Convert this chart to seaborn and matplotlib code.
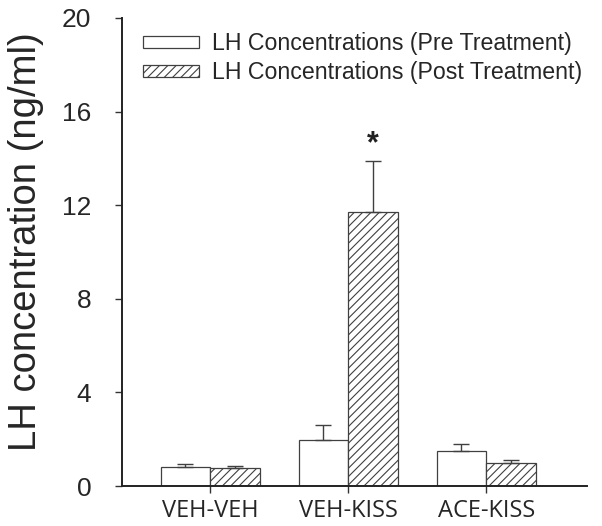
import numpy as np
import pandas as pd
import matplotlib
matplotlib.use("Agg")
import matplotlib.pyplot as plt
import seaborn as sns

# values
groups = ["VEH-VEH", "VEH-KISS", "ACE-KISS"]
series = ["LH Concentrations (Pre Treatment)", "LH Concentrations (Post Treatment)"]
pre_mean = [0.80, 1.97, 1.50]
pre_sem = [0.12, 0.65, 0.30]
post_mean = [0.75, 11.7, 0.99]
post_sem = [0.12, 2.2, 0.14]
yticks = [0, 4, 8, 12, 16, 20]

sns.set_theme(style="ticks")
plt.rcParams["font.family"] = ["Liberation Sans", "DejaVu Sans"]
plt.rcParams["hatch.color"] = "#606060"
plt.rcParams["hatch.linewidth"] = 0.8

df = pd.DataFrame({
    "group": groups * 2,
    "series": [series[0]] * 3 + [series[1]] * 3,
    "conc": pre_mean + post_mean,
})

fig = plt.figure(figsize=(6.02, 5.26), dpi=100)
ax = fig.add_axes([0.2027, 0.076, 0.7723, 0.890])

sns.barplot(data=df, x="group", y="conc", hue="series", order=groups,
            hue_order=series, errorbar=None, width=0.72,
            palette=["white", "white"], edgecolor="#404040", linewidth=0.9,
            saturation=1, ax=ax)

# hatch the post-treatment bars + add one-sided error bars
errs = [pre_sem, post_sem]
means = [pre_mean, post_mean]
bar_conts = list(ax.containers)
for i, cont in enumerate(bar_conts):
    xs = []
    for bar in cont.patches:
        if i == 1:
            bar.set_hatch("////")
        xs.append(bar.get_x() + bar.get_width() / 2)
    ax.errorbar(xs, means[i], yerr=[np.zeros(3), errs[i]], fmt="none",
                ecolor="#404040", elinewidth=1.0, capsize=6, capthick=1.0, zorder=1)

# significance marker
ax.text(1.18, 14.6, "*", ha="center", va="center", fontsize=22,
        fontweight="bold", color="#222222")

ax.set_ylim(0, 20)
ax.set_xlim(-0.64, 2.73)
ax.set_yticks(yticks)
ax.set_yticklabels([str(t) for t in yticks], fontsize=19)
ax.set_xticks(range(3))
ax.set_xticklabels(groups, fontsize=17, family=["Open Sans", "DejaVu Sans"])
ax.set_xlabel("")
ax.set_ylabel("LH concentration (ng/ml)", fontsize=27.5)
ax.yaxis.set_label_coords(-0.168, 0.523)
ax.tick_params(axis="both", direction="out", length=5, width=1, color="#333333")
ax.tick_params(axis="y", pad=17)
ax.tick_params(axis="x", pad=4)
for s in ["top", "right"]:
    ax.spines[s].set_visible(False)
for s in ["left", "bottom"]:
    ax.spines[s].set_linewidth(1.4)
    ax.spines[s].set_color("#222222")

leg = ax.legend(loc="upper left", bbox_to_anchor=(0.015, 1.0), frameon=False,
                fontsize=16.7, handlelength=2.4, handleheight=0.42,
                handletextpad=0.6, labelspacing=0.27, borderaxespad=0.2)
leg.legend_handles[1].set_hatch("////")

fig.savefig("out.png", dpi=100)
